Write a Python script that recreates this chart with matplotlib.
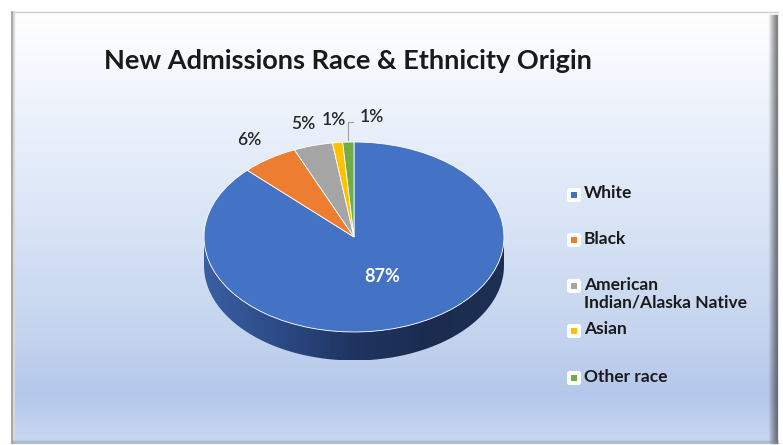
import numpy as np
import matplotlib
matplotlib.use("Agg")
import matplotlib.pyplot as plt
from matplotlib.colors import to_rgb
from matplotlib.patches import Rectangle, Polygon, FancyBboxPatch

# ---- data ----
title = "New Admissions Race & Ethnicity Origin"
categories = ["White", "Black", "American\nIndian/Alaska Native", "Asian", "Other race"]
values = [87.4, 6.1, 4.2, 1.1, 1.2]
pct_labels = ["87%", "6%", "5%", "1%", "1%"]
colors = ["#4472c4", "#ed7d31", "#a5a5a5", "#ffc000", "#70ad47"]

W, H = 783, 445
fig = plt.figure(figsize=(W / 100, H / 100), dpi=100)
fig.patch.set_facecolor("white")

# ---- background frame with gradient ----
bg = fig.add_axes([0, 0, 1, 1])
bg.set_xlim(0, W)
bg.set_ylim(H, 0)
bg.axis("off")

x0, x1, y0, y1 = 12, 778, 12, 443
stops_y = [y0, 60, 200, 330, 395, y1]
stops_c = ["#ffffff", "#f6f9fe", "#dde7f7", "#c5d5ef", "#b5c8eb", "#c9d8f2"]
ys = np.arange(y0, y1 + 1)
cs = np.array([to_rgb(c) for c in stops_c])
grad = np.stack([np.interp(ys, stops_y, cs[:, k]) for k in range(3)], axis=-1)
grad = np.repeat(grad[:, None, :], 2, axis=1)
bg.imshow(grad, extent=(x0, x1, y1, y0), aspect="auto", interpolation="bilinear", zorder=0)
# frame edges
bg.plot([x0, x1], [y0, y0], color="#d0d0d0", lw=1, zorder=1)
bg.plot([x0, x0], [y0, y1], color="#9a9a9a", lw=1.2, zorder=1)
bg.plot([x0 + 1.5, x0 + 1.5], [y0, y1], color="#d8d8d8", lw=1.5, zorder=1)
# right shadow
for i in range(9):
    a = (i + 1) / 9
    bg.plot([x1 - 9 + i, x1 - 9 + i], [y0 + 3, y1], color="#303030", alpha=a * 0.55, lw=1, zorder=1)
# bottom edge
for i in range(4):
    bg.plot([x0, x1], [y1 - 3 + i, y1 - 3 + i], color="#8090a8", alpha=0.12 * (i + 1), lw=1, zorder=1)

# title
bg.text(104, 61, title, fontsize=19.5, fontweight="bold", family=["Lato", "DejaVu Sans"],
        color="#1a1a1a", ha="left", va="center", zorder=3)

# ---- legend ----
leg_y = [195, 240, 286, 331, 378]
for cat, col, yy in zip(categories, colors, leg_y):
    bg.add_patch(FancyBboxPatch((567, yy - 7), 14, 14, boxstyle="round,pad=0,rounding_size=2.5",
                                facecolor="white", edgecolor="none", zorder=3))
    bg.add_patch(Rectangle((571, yy - 3), 6, 6, facecolor=col, edgecolor="none", zorder=4))
    bg.text(584, yy - 9.5, cat, fontsize=12.5, fontweight="bold", family=["Lato", "DejaVu Sans"],
            color="#1a1a1a", ha="left", va="top", linespacing=1.12, zorder=4)

# ---- 3D-like pie ----
cx, cy, rx, ry = 354, 237, 150, 95
ax = fig.add_axes([(cx - 1.5 * rx) / W, (H - cy - 1.5 * ry) / H, 3 * rx / W, 3 * ry / H])
depth = 0.30

wedges, _ = ax.pie(values, colors=colors, startangle=90, counterclock=False,
                   wedgeprops=dict(edgecolor="white", linewidth=0.6), radius=1)
for w in wedges:
    w.set_zorder(3)

# side of the pie (front half)
t = np.linspace(np.pi, 2 * np.pi, 200)
top = np.column_stack([np.cos(t), np.sin(t)])
bot = np.column_stack([np.cos(t[::-1]), np.sin(t[::-1]) - depth])
side = Polygon(np.vstack([top, bot]), closed=True, facecolor="none", edgecolor="none")
ax.add_patch(side)
xs = np.linspace(0, 1, 256)
sc = np.array([to_rgb(c) for c in ["#3a5fa2", "#2c4a85", "#1f3461", "#1b2c50", "#1d2f55"]])
sp = np.linspace(0, 1, len(sc))
sgrad = np.stack([np.interp(xs, sp, sc[:, k]) for k in range(3)], axis=-1)[None, :, :]
im = ax.imshow(sgrad, extent=(-1, 1, -1 - depth, 0), aspect="auto", zorder=1, interpolation="bilinear")
im.set_clip_path(side)

ax.set_aspect("auto")
ax.set_xlim(-1.5, 1.5)
ax.set_ylim(-1.5, 1.5)
ax.axis("off")

# percentage labels
for i, (w, lab) in enumerate(zip(wedges, pct_labels)):
    mid = np.deg2rad((w.theta1 + w.theta2) / 2)
    if i == 0:
        ax.text(0.19, -0.42, lab, fontsize=13, fontweight="bold", family=["Lato", "DejaVu Sans"],
                color="white", ha="center", va="center", zorder=5)
        continue
    lx, ly = 1.24 * np.cos(mid), 1.24 * np.sin(mid)
    if i == len(wedges) - 1:
        ex, ey = np.cos(mid), np.sin(mid)
        ax.plot([ex, ex, ex + 0.03], [ey + 0.02, 1.21, 1.21], color="#a0a0a0", lw=0.8,
                clip_on=False, zorder=5)
        lx, ly = 0.12, 1.26
    ax.text(lx, ly, lab, fontsize=12.5, fontweight="semibold", family=["Lato", "DejaVu Sans"],
            color="#262626", ha="center", va="center", zorder=5, clip_on=False)

fig.savefig("out.png", dpi=100)
